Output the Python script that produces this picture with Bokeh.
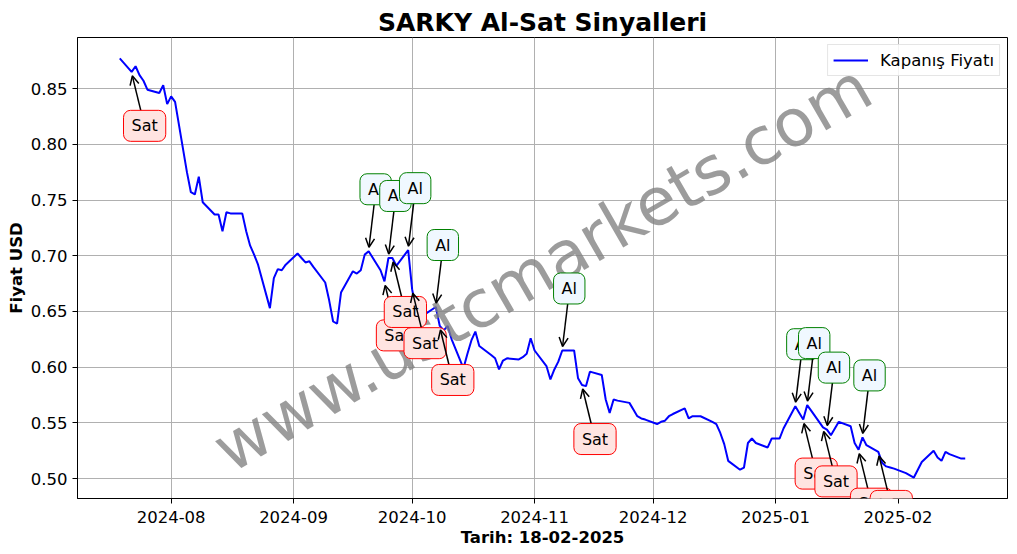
import pandas as pd
from bokeh.plotting import figure
from bokeh.models import (Range1d, FixedTicker, DatetimeTickFormatter, PrintfTickFormatter,
                          Label, Arrow, OpenHead, Legend)
from bokeh.embed import file_html
from bokeh.resources import INLINE

# ---------------- data ----------------
dates = [
    "2024-07-19", "2024-07-22", "2024-07-23", "2024-07-24", "2024-07-25", "2024-07-26", "2024-07-29", "2024-07-30", "2024-07-31",
    "2024-08-01", "2024-08-02", "2024-08-05", "2024-08-06", "2024-08-07", "2024-08-08", "2024-08-09", "2024-08-12", "2024-08-13",
    "2024-08-14", "2024-08-15", "2024-08-16", "2024-08-19", "2024-08-20", "2024-08-21", "2024-08-22", "2024-08-23", "2024-08-26",
    "2024-08-27", "2024-08-28", "2024-08-29", "2024-08-30",
    "2024-09-02", "2024-09-03", "2024-09-04", "2024-09-05", "2024-09-06", "2024-09-09", "2024-09-10", "2024-09-11", "2024-09-12",
    "2024-09-13", "2024-09-16", "2024-09-17", "2024-09-18", "2024-09-19", "2024-09-20", "2024-09-23", "2024-09-24", "2024-09-25",
    "2024-09-26", "2024-09-27", "2024-09-30",
    "2024-10-01", "2024-10-02", "2024-10-03", "2024-10-04", "2024-10-07", "2024-10-08", "2024-10-09", "2024-10-10", "2024-10-11",
    "2024-10-14", "2024-10-15", "2024-10-16", "2024-10-17", "2024-10-18", "2024-10-21", "2024-10-22", "2024-10-23", "2024-10-24",
    "2024-10-25", "2024-10-28", "2024-10-29", "2024-10-30", "2024-10-31",
    "2024-11-01", "2024-11-04", "2024-11-05", "2024-11-06", "2024-11-07", "2024-11-08", "2024-11-11", "2024-11-12", "2024-11-13",
    "2024-11-14", "2024-11-15", "2024-11-18", "2024-11-19", "2024-11-20", "2024-11-21", "2024-11-22", "2024-11-25", "2024-11-26",
    "2024-11-27", "2024-11-28", "2024-11-29",
    "2024-12-02", "2024-12-03", "2024-12-04", "2024-12-05", "2024-12-06", "2024-12-09", "2024-12-10", "2024-12-11", "2024-12-12",
    "2024-12-13", "2024-12-16", "2024-12-17", "2024-12-18", "2024-12-19", "2024-12-20", "2024-12-23", "2024-12-24", "2024-12-25",
    "2024-12-26", "2024-12-27", "2024-12-30", "2024-12-31",
    "2025-01-02", "2025-01-03", "2025-01-06", "2025-01-07", "2025-01-08", "2025-01-09", "2025-01-10", "2025-01-13", "2025-01-14",
    "2025-01-15", "2025-01-16", "2025-01-17", "2025-01-20", "2025-01-21", "2025-01-22", "2025-01-23", "2025-01-24", "2025-01-27",
    "2025-01-28", "2025-01-29", "2025-01-30", "2025-01-31",
    "2025-02-03", "2025-02-04", "2025-02-05", "2025-02-06", "2025-02-07", "2025-02-10", "2025-02-11", "2025-02-12", "2025-02-13",
    "2025-02-14", "2025-02-17", "2025-02-18",
]

closes = [
    0.877, 0.865, 0.870, 0.862, 0.857, 0.849, 0.846, 0.853, 0.836,
    0.843, 0.838, 0.775, 0.757, 0.755, 0.771, 0.748, 0.737, 0.737,
    0.722, 0.739, 0.738, 0.738, 0.722, 0.709, 0.701, 0.692, 0.653,
    0.680, 0.688, 0.687, 0.692,
    0.702, 0.698, 0.694, 0.695, 0.690, 0.676, 0.660, 0.641, 0.639,
    0.667, 0.686, 0.684, 0.687, 0.701, 0.704, 0.687, 0.677, 0.698,
    0.698, 0.691, 0.705,
    0.670, 0.650, 0.649, 0.647, 0.654, 0.637, 0.633, 0.637, 0.625,
    0.599, 0.612, 0.624, 0.632, 0.619, 0.611, 0.608, 0.598, 0.606,
    0.608, 0.607, 0.609, 0.612, 0.626,
    0.615, 0.601, 0.589, 0.598, 0.605, 0.615, 0.615, 0.590, 0.584,
    0.583, 0.596, 0.593, 0.571, 0.559, 0.571, 0.570, 0.568, 0.562,
    0.556, 0.554, 0.553,
    0.549, 0.551, 0.552, 0.556, 0.558, 0.563, 0.554, 0.556, 0.556,
    0.556, 0.551, 0.549, 0.541, 0.531, 0.516, 0.508, 0.510, 0.532,
    0.536, 0.532, 0.528, 0.536,
    0.536, 0.545, 0.565, 0.559, 0.553, 0.566, 0.561, 0.546, 0.544,
    0.539, 0.545, 0.551, 0.547, 0.532, 0.526, 0.537, 0.530, 0.524,
    0.514, 0.511, 0.510, 0.509,
    0.505, 0.503, 0.501, 0.508, 0.515, 0.525, 0.519, 0.516, 0.524,
    0.522, 0.518, 0.518,
]

buy_dates = ["2024-09-20", "2024-09-25", "2024-09-30", "2024-10-07", "2024-11-08",
             "2025-01-06", "2025-01-09", "2025-01-14", "2025-01-23"]
sell_dates = ["2024-07-22", "2024-09-24", "2024-09-26", "2024-10-01", "2024-10-08",
              "2024-11-13", "2025-01-08", "2025-01-13", "2025-01-22", "2025-01-27"]

x_tick_months = ["2024-08-01", "2024-09-01", "2024-10-01", "2024-11-01",
                 "2024-12-01", "2025-01-01", "2025-02-01"]
y_ticks = [0.50, 0.55, 0.60, 0.65, 0.70, 0.75, 0.80, 0.85]

TITLE = "SARKY Al-Sat Sinyalleri"
X_LABEL = "Tarih: 18-02-2025"
Y_LABEL = "Fiyat USD"
LEGEND_LABEL = "Kapanış Fiyatı"
BUY_TEXT = "Al"
SELL_TEXT = "Sat"
WATERMARK = "www.ustcmarkets.com"

# ---------------- helpers ----------------
EPOCH = pd.Timestamp("1970-01-01")


def to_ms(seq):
    idx = pd.to_datetime(pd.Series(seq))
    return list(((idx - EPOCH) / pd.Timedelta(milliseconds=1)).astype(float))


xs = to_ms(dates)
price_at = dict(zip(dates, closes))

# ranges with 5% padding (matplotlib style)
xmin, xmax = min(xs), max(xs)
xpad = (xmax - xmin) * 0.05
ymin, ymax = min(closes), max(closes)
ypad = (ymax - ymin) * 0.05
x0, x1 = xmin - xpad, xmax + xpad
y0, y1 = ymin - ypad, ymax + ypad

W, H = 1017, 554
BL, BR, BT, BB = 77, 10, 37, 56
FW, FH = W - BL - BR, H - BT - BB
MS_PX = (x1 - x0) / FW
V_PX = (y1 - y0) / FH

FONT = "DejaVu Sans"

p = figure(width=W, height=H, x_axis_type="datetime", output_backend="svg",
           toolbar_location=None, x_range=Range1d(x0, x1), y_range=Range1d(y0, y1),
           min_border_left=BL, min_border_right=BR, min_border_top=BT, min_border_bottom=BB)

p.title.text = TITLE
p.title.align = "center"
p.title.text_font = FONT
p.title.text_font_size = "25px"
p.title.text_font_style = "bold"
p.title.text_color = "black"
p.title.standoff = 2
p.title.offset = 0

p.background_fill_color = "white"
p.border_fill_color = "white"
p.outline_line_color = "black"
p.outline_line_width = 1

p.xaxis.ticker = FixedTicker(ticks=to_ms(x_tick_months))
p.xaxis.formatter = DatetimeTickFormatter(days="%Y-%m", months="%Y-%m", years="%Y-%m",
                                          hours="%Y-%m", context=None)
p.yaxis.ticker = FixedTicker(ticks=y_ticks)
p.yaxis.formatter = PrintfTickFormatter(format="%.2f")

for ax in (p.xaxis[0], p.yaxis[0]):
    ax.axis_line_color = "black"
    ax.major_tick_line_color = "black"
    ax.major_tick_out = 5
    ax.major_tick_in = 0
    ax.minor_tick_line_color = None
    ax.major_label_text_font = FONT
    ax.major_label_text_font_size = "16.5px"
    ax.major_label_text_color = "black"
    ax.axis_label_text_font = FONT
    ax.axis_label_text_font_size = "16.5px"
    ax.axis_label_text_font_style = "bold"
    ax.axis_label_text_color = "black"
    ax.axis_label_standoff = 2

p.xaxis.major_label_standoff = 7
p.yaxis.major_label_standoff = 5

p.xaxis.axis_label = X_LABEL
p.yaxis.axis_label = Y_LABEL

p.xgrid.grid_line_color = "#b0b0b0"
p.ygrid.grid_line_color = "#b0b0b0"
p.xgrid.grid_line_width = 1
p.ygrid.grid_line_width = 1

line = p.line(xs, closes, line_color="#0000ff", line_width=2)

# watermark
p.add_layout(Label(x=(x0 + x1) / 2, y=(y0 + y1) / 2, text=WATERMARK, angle=30, angle_units="deg",
                   text_align="center", text_baseline="middle", text_font=FONT,
                   text_font_size="66px", text_color="gray", text_alpha=0.78))

# signals in chronological order
signals = [(d, "buy") for d in buy_dates] + [(d, "sell") for d in sell_dates]
signals.sort(key=lambda s: s[0])

for d, kind in signals:
    tx = to_ms([d])[0]
    ty = price_at[d]
    if kind == "buy":
        box = (7, 62)
        start = (5.5, 47)
        end = (0.3, 4)
        txt, fill, edge = BUY_TEXT, "#f0f8ff", "green"
    else:
        box = (13, -54)
        start = (9.5, -40)
        end = (0.7, -4)
        txt, fill, edge = SELL_TEXT, "#ffe4e1", "red"
    p.add_layout(Arrow(end=OpenHead(size=9, line_width=1.5, line_color="black"),
                       x_start=tx + start[0] * MS_PX, y_start=ty + start[1] * V_PX,
                       x_end=tx + end[0] * MS_PX, y_end=ty + end[1] * V_PX,
                       line_color="black", line_width=1.5))
    p.add_layout(Label(x=tx + box[0] * MS_PX, y=ty + box[1] * V_PX, text=txt,
                       text_align="center", text_baseline="middle", text_font=FONT,
                       text_font_size="16px", text_color="black",
                       background_fill_color=fill, background_fill_alpha=1,
                       border_line_color=edge, border_line_width=1,
                       padding=dict(left=8, right=8, top=6, bottom=6), border_radius=7))

legend = Legend(items=[(LEGEND_LABEL, [line])], location="top_right",
                label_text_font=FONT, label_text_font_size="16.5px", label_text_color="black",
                border_line_color="#cccccc", border_line_width=1,
                background_fill_alpha=0.85, padding=5, margin=7, glyph_width=35,
                label_standoff=12, spacing=0)
p.add_layout(legend)

open("out.html", "w").write(file_html(p, INLINE))
